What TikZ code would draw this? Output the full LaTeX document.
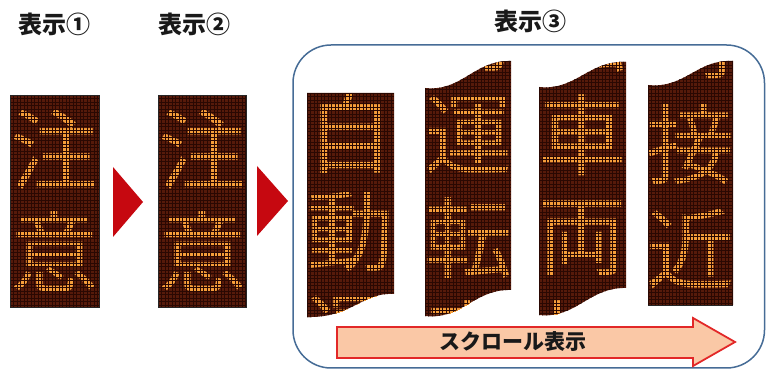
\documentclass[tikz,border=0pt]{standalone}
\usepackage{fontspec}
\setmainfont{Noto Sans CJK JP}
\definecolor{ledoff}{RGB}{86,26,10}
\definecolor{ledgrid}{RGB}{42,8,2}
\definecolor{ledon}{RGB}{246,158,58}
\definecolor{boxblue}{RGB}{70,108,150}
\definecolor{trired}{RGB}{198,8,16}
\definecolor{arrowfill}{RGB}{250,200,166}
\definecolor{arrowline}{RGB}{226,40,40}
\tikzset{
  ledchar/.style={text=ledon, font=\fontsize{88}{88}\selectfont, inner sep=0pt, anchor=center},
  ledgridline/.style={draw=ledgrid, line width=0.75pt},
  panelborder/.style={draw=black!85, line width=0.6pt},
  titlelabel/.style={font=\bfseries\fontsize{24}{24}\selectfont, inner sep=0pt, text=black!90},
  nexttri/.style={fill=trired},
  groupbox/.style={draw=boxblue, line width=1.5pt, rounded corners=38pt},
  scrollarrow/.style={fill=arrowfill, draw=arrowline, line width=1.8pt, line join=miter},
  scrolllabel/.style={font=\bfseries\fontsize{21}{21}\selectfont, inner sep=0pt, text=black!90}
}
\newcommand\myledgrid[4]{%
  \pgfmathsetmacro\gxnext{#1+3.5}%
  \pgfmathsetmacro\gynext{#2+3.5}%
  \foreach \gx in {#1,\gxnext,...,#3} {\draw[ledgridline] (\gx,#2) -- (\gx,#4);}%
  \foreach \gy in {#2,\gynext,...,#4} {\draw[ledgridline] (#1,\gy) -- (#3,\gy);}%
}
\begin{document}
\begin{tikzpicture}[x=1pt,y=-1pt]
\useasboundingbox (0,0) rectangle (766,371);

% titles
\node[titlelabel] (t1) at (54,24) {表示①};
\node[titlelabel] (t2) at (194,24) {表示②};
\node[titlelabel] (t3) at (530,21) {表示③};

% group box
\draw[groupbox] (293,45) rectangle (764.5,368);

% panel 1
\begin{scope}
  \clip (10,95) rectangle (99,307);
  \fill[ledoff] (10,95) rectangle (99,307);
  \node[ledchar] (p1a) at (54.5,149) {注};
  \node[ledchar] (p1b) at (54.5,252) {意};
  \myledgrid{10}{95}{99}{307}
\end{scope}
\draw[panelborder] (10,95) rectangle (99,307);

% panel 2
\begin{scope}
  \clip (158,95) rectangle (246,307);
  \fill[ledoff] (158,95) rectangle (246,307);
  \node[ledchar] (p2a) at (202,149) {注};
  \node[ledchar] (p2b) at (202,252) {意};
  \myledgrid{158}{95}{246}{307}
\end{scope}
\draw[panelborder] (158,95) rectangle (246,307);

% triangles
\fill[nexttri] (113,167) -- (143,202) -- (113,237) -- cycle;
\fill[nexttri] (257,166) -- (288,201) -- (257,236) -- cycle;

% panel 3
\def\pathC{(307,93) -- (394,93) -- (394,294) .. controls (362,292) and (352,318) .. (307,317) -- cycle}
\begin{scope}
  \clip \pathC;
  \fill[ledoff] (300,60) rectangle (400,330);
  \node[ledchar] (p3a) at (350.5,133) {自};
  \node[ledchar] (p3b) at (350.5,232) {動};
  \node[ledchar] (p3c) at (350.5,335) {運};
  \myledgrid{307}{93}{394}{318}
\end{scope}

% panel 4
\def\pathD{(425,88) .. controls (462,92) and (474,60) .. (511,61) -- (511,290) .. controls (474,289) and (462,320) .. (425,316) -- cycle}
\begin{scope}
  \clip \pathD;
  \fill[ledoff] (420,55) rectangle (515,320);
  \node[ledchar] (p4z) at (468,32) {動};
  \node[ledchar] (p4a) at (468,135) {運};
  \node[ledchar] (p4b) at (468,238) {転};
  \node[ledchar] (p4c) at (468,341) {車};
  \myledgrid{425}{58}{511}{318}
\end{scope}

% panel 5
\def\pathE{(539,87) .. controls (576,91) and (589,60) .. (626,62) -- (626,288) .. controls (589,287) and (576,319) .. (539,315) -- cycle}
\begin{scope}
  \clip \pathE;
  \fill[ledoff] (535,55) rectangle (630,320);
  \node[ledchar] (p5z) at (582.5,32) {転};
  \node[ledchar] (p5a) at (582.5,135) {車};
  \node[ledchar] (p5b) at (582.5,238) {両};
  \node[ledchar] (p5c) at (582.5,341) {接};
  \myledgrid{539}{58}{626}{318}
\end{scope}

% panel 6
\def\pathF{(648,85) .. controls (685,89) and (697,59) .. (733,61) -- (733,305) -- (648,305) -- cycle}
\begin{scope}
  \clip \pathF;
  \fill[ledoff] (640,55) rectangle (740,310);
  \node[ledchar] (p6z) at (690.5,41) {両};
  \node[ledchar] (p6a) at (690.5,144) {接};
  \node[ledchar] (p6b) at (690.5,249) {近};
  \myledgrid{648}{58}{733}{305}
\end{scope}
\draw[panelborder] (648,305) -- (733,305);

% scroll arrow
\draw[scrollarrow] (337,327) -- (693,327) -- (693,318) -- (735,342) -- (693,366) -- (693,358) -- (337,358) -- cycle;
\node[scrolllabel] (scroll) at (513,342) {スクロール表示};
\end{tikzpicture}
\end{document}
